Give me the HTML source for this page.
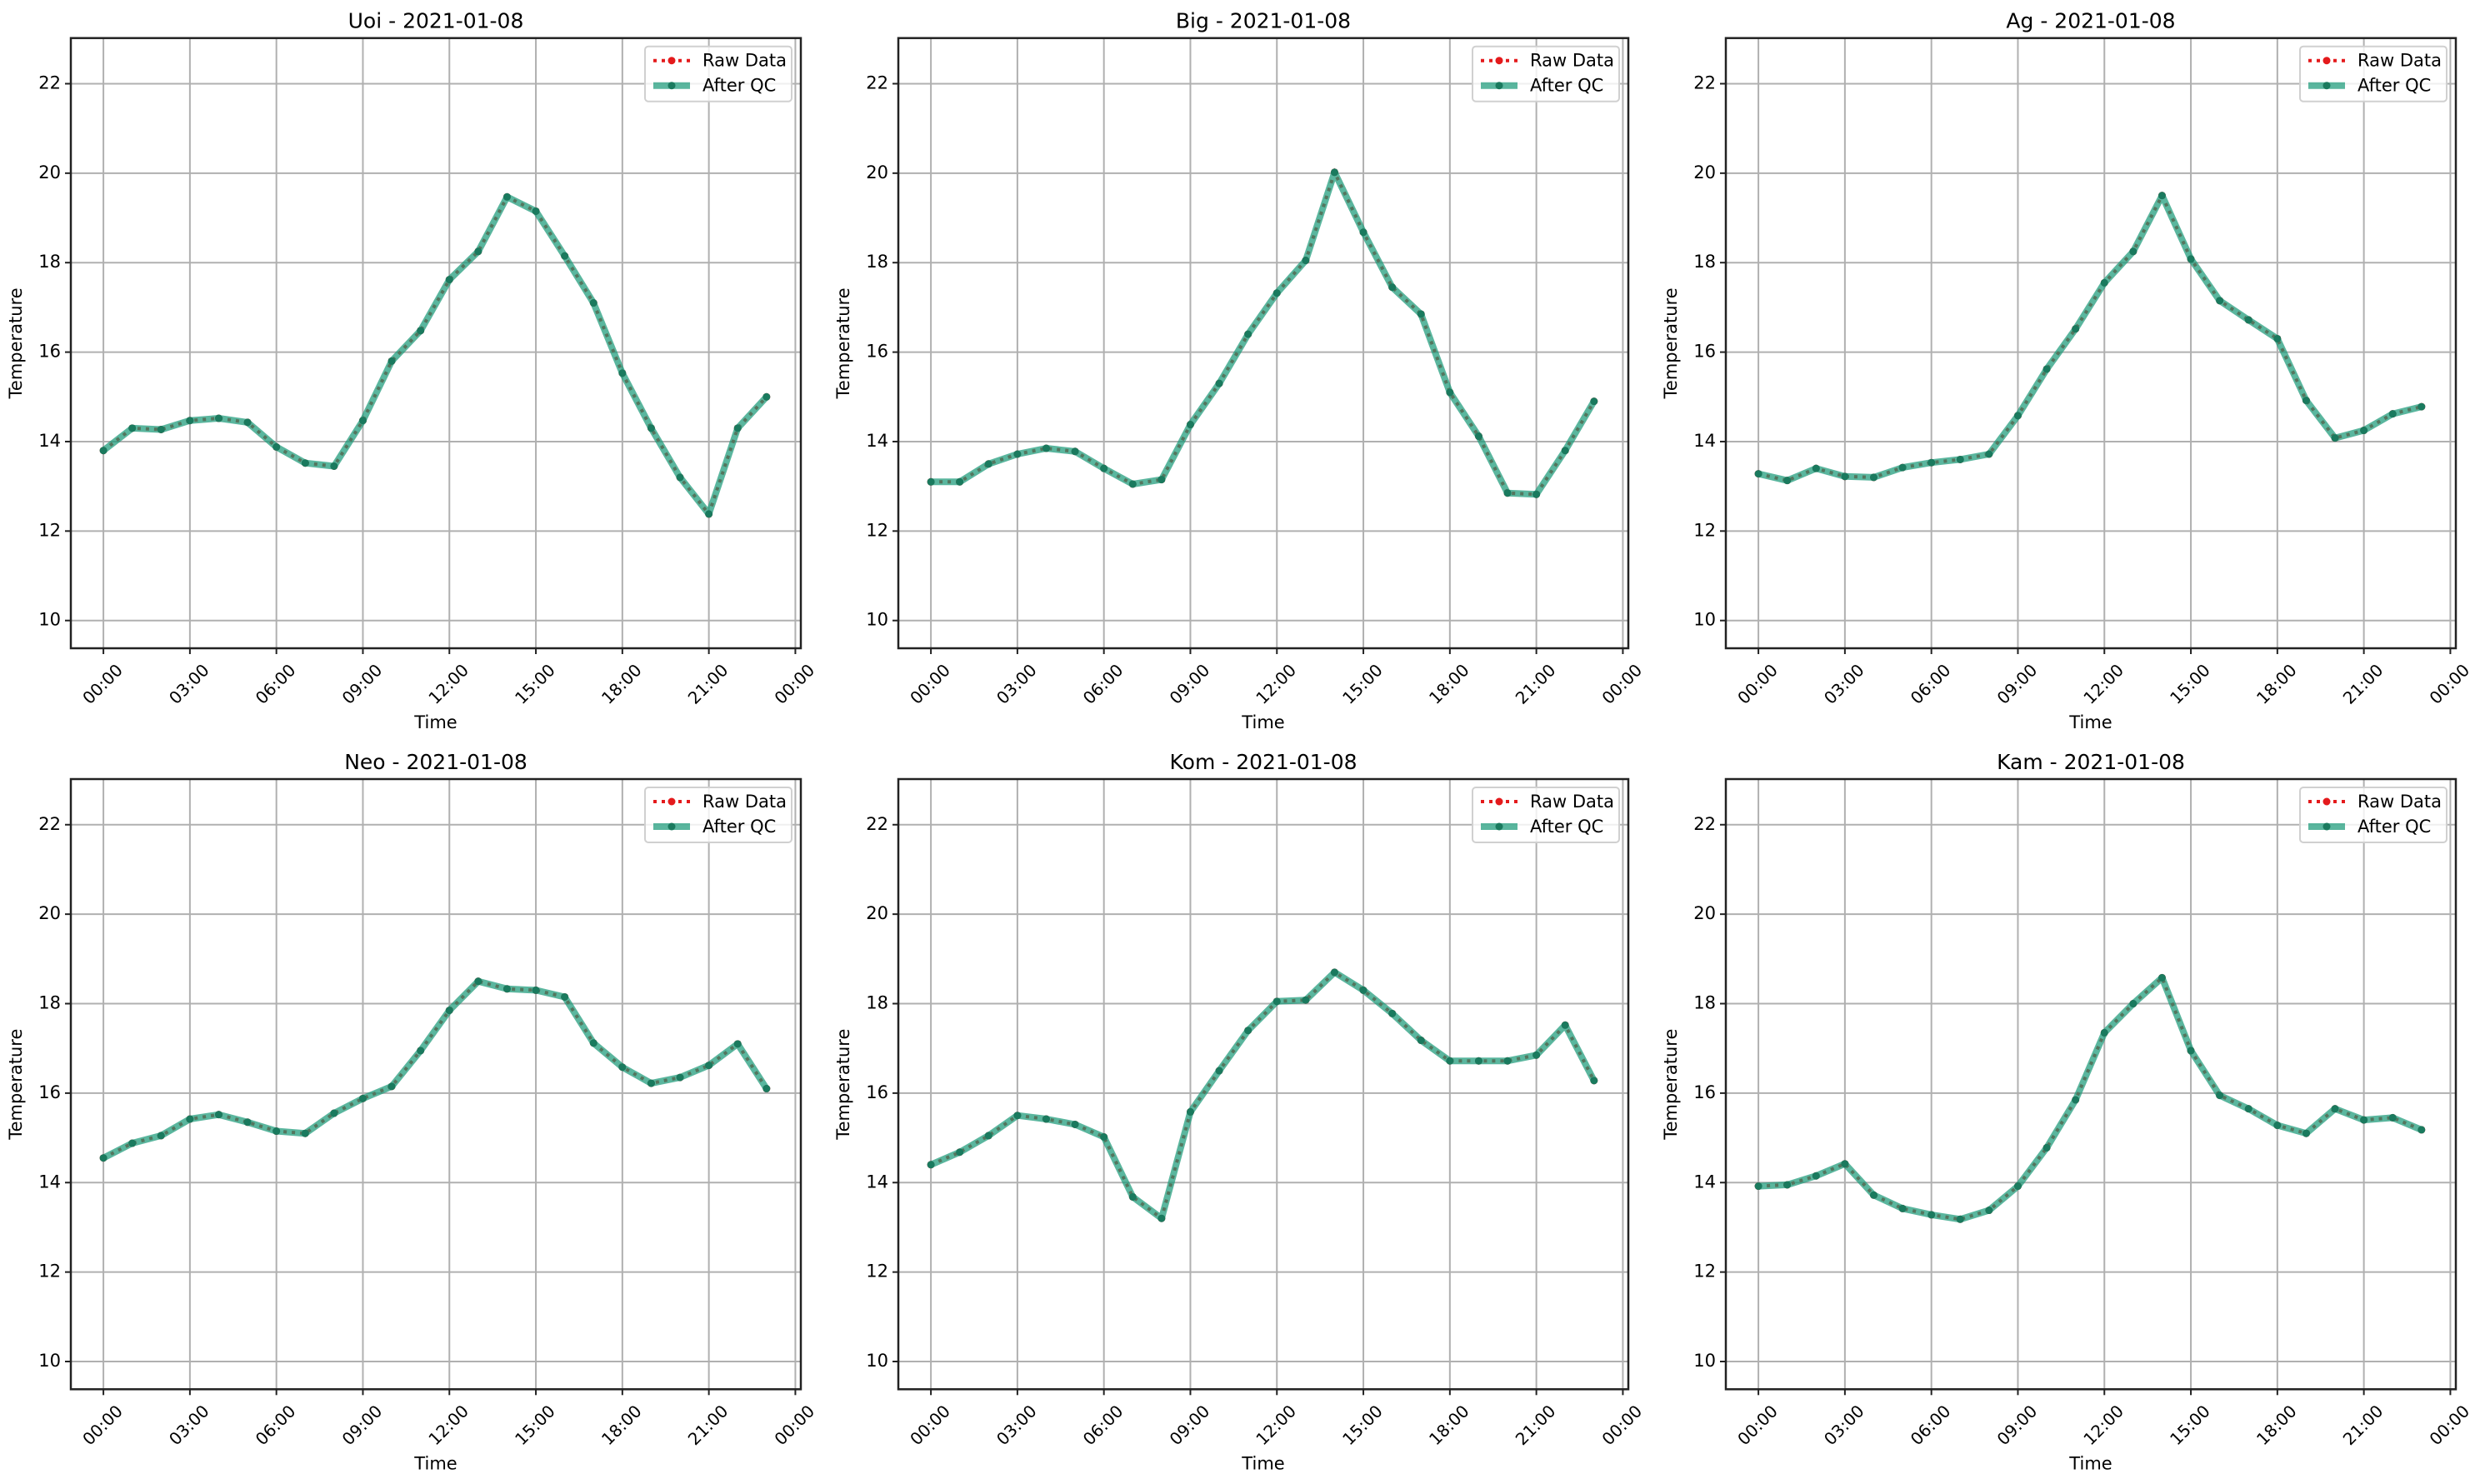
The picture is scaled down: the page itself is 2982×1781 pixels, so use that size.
<!DOCTYPE html>
<html><head><meta charset="utf-8"><style>
html,body{margin:0;padding:0;background:#fff;}
svg{display:block;font-family:"DejaVu Sans","Liberation Sans",sans-serif;}
</style></head><body>
<svg id="fig" width="2982" height="1781" viewBox="0 0 2982 1781" xmlns="http://www.w3.org/2000/svg"></svg>
<script>
const stations = ["Uoi","Big","Ag","Neo","Kom","Kam"];
const hours = [0,1,2,3,4,5,6,7,8,9,10,11,12,13,14,15,16,17,18,19,20,21,22,23];
const uoiVals = [13.8,14.3,14.27,14.47,14.52,14.43,13.88,13.52,13.45,14.47,15.8,16.48,17.62,18.25,19.47,19.15,18.15,17.1,15.53,14.3,13.2,12.38,14.3,15.0];
const bigVals = [13.1,13.1,13.5,13.72,13.85,13.78,13.4,13.05,13.15,14.38,15.3,16.4,17.32,18.05,20.02,18.68,17.45,16.85,15.1,14.12,12.85,12.82,13.8,14.9];
const agVals = [13.28,13.13,13.4,13.22,13.2,13.42,13.53,13.6,13.72,14.58,15.62,16.52,17.55,18.25,19.5,18.08,17.15,16.72,16.3,14.92,14.08,14.25,14.62,14.78];
const neoVals = [14.55,14.88,15.05,15.42,15.52,15.35,15.15,15.1,15.55,15.88,16.15,16.95,17.85,18.5,18.33,18.3,18.15,17.12,16.58,16.22,16.35,16.62,17.1,16.1];
const komVals = [14.4,14.68,15.05,15.5,15.42,15.3,15.02,13.68,13.2,15.58,16.5,17.4,18.05,18.08,18.7,18.3,17.78,17.18,16.72,16.72,16.72,16.85,17.52,16.28];
const kamVals = [13.92,13.95,14.15,14.42,13.72,13.42,13.28,13.18,13.38,13.92,14.78,15.85,17.35,18.0,18.58,16.95,15.95,15.65,15.28,15.1,15.65,15.4,15.45,15.18];
const xTickHours = [0,3,6,9,12,15,18,21,24];
const xTickLabels = ["00:00","03:00","06:00","09:00","12:00","15:00","18:00","21:00","00:00"];
const yTicks = [10,12,14,16,18,20,22];
const dateLabel = "2021-01-08";

const allVals = [uoiVals,bigVals,agVals,neoVals,komVals,kamVals];
const NS = "http://www.w3.org/2000/svg";
const svg = document.getElementById('fig');
function mk(tag, attrs, parent){const e=document.createElementNS(NS,tag);for(const k in attrs)e.setAttribute(k,attrs[k]);(parent||svg).appendChild(e);return e;}

const AX_W=876, AX_H=732.3, X0=85, Y0=45.7, DX=993, DY=889.3;
const XMIN=-1.13, XMAX=24.19, YMIN=9.38, YMAX=23.02;

stations.forEach((name,i)=>{
  const c=i%3, r=Math.floor(i/3);
  const L=X0+c*DX, T=Y0+r*DY, R=L+AX_W, B=T+AX_H;
  const xs=h=>L+(h-XMIN)/(XMAX-XMIN)*AX_W;
  const ys=v=>B-(v-YMIN)/(YMAX-YMIN)*AX_H;
  const g=mk('g',{});
  
  
  xTickHours.forEach((h,k)=>{
    const gl=mk('line',{x1:xs(h),x2:xs(h),y1:T,y2:B,stroke:'#b0b0b0','stroke-width':2},g);
    
    
    const tk=mk('line',{x1:xs(h),x2:xs(h),y1:B,y2:B+7,stroke:'#222','stroke-width':2},g);
    
    
    const tx=xs(h), ty=B+44;
    const t=mk('text',{x:tx,y:ty,'font-size':20,'text-anchor':'middle','dominant-baseline':'middle',transform:`rotate(-45 ${tx} ${ty})`,fill:'#000'},g);
    t.textContent=xTickLabels[k];
    
    
  });
  yTicks.forEach(v=>{
    const gl=mk('line',{x1:L,x2:R,y1:ys(v),y2:ys(v),stroke:'#b0b0b0','stroke-width':2},g);
    
    
    const tk=mk('line',{x1:L-7,x2:L,y1:ys(v),y2:ys(v),stroke:'#222','stroke-width':2},g);
    
    
    const t=mk('text',{x:L-12,y:ys(v),'font-size':21,'text-anchor':'end','dominant-baseline':'middle',fill:'#000'},g);
    t.textContent=v;
    
    
  });
  const vals=allVals[i];
  const pts=hours.map((h,k)=>xs(h).toFixed(1)+','+ys(vals[k]).toFixed(1)).join(' ');
  const raw=mk('polyline',{points:pts,fill:'none',stroke:'#e41a1c','stroke-width':4,'stroke-dasharray':'4 6'},g);
  
  
  hours.forEach((h,k)=>{
    const m=mk('circle',{cx:xs(h),cy:ys(vals[k]),r:4.5,fill:'#e41a1c'},g);
    
    
  });
  const qc=mk('polyline',{points:pts,fill:'none',stroke:'#1a9a78','stroke-width':8,'stroke-opacity':0.72,'stroke-linejoin':'round'},g);
  
  
  hours.forEach((h,k)=>{
    const m=mk('circle',{cx:xs(h),cy:ys(vals[k]),r:4.5,fill:'#1a7a5e'},g);
    
    
  });
  const fr=mk('rect',{x:L,y:T,width:AX_W,height:AX_H,fill:'none',stroke:'#222','stroke-width':2.5},g);
  
  
  const ti=mk('text',{x:(L+R)/2,y:T-12,'font-size':25,'text-anchor':'middle',fill:'#000'},g);
  ti.textContent=name+' - '+dateLabel;
  
  
  const xl=mk('text',{x:(L+R)/2,y:B+96,'font-size':21,'text-anchor':'middle',fill:'#000'},g);
  xl.textContent='Time';
  
  
  const yx=L-59, yy=(T+B)/2;
  const yl=mk('text',{x:yx,y:yy,'font-size':21,'text-anchor':'middle',transform:`rotate(-90 ${yx} ${yy})`,fill:'#000'},g);
  yl.textContent='Temperature';
  
  
  const lg=mk('g',{},g);
  
  
  mk('rect',{x:R-187,y:T+10,width:176,height:66,rx:4,fill:'#fff','fill-opacity':0.8,stroke:'#d0d0d0','stroke-width':2},lg);
  const e1=mk('line',{x1:R-177,x2:R-133,y1:T+27,y2:T+27,stroke:'#e41a1c','stroke-width':4,'stroke-dasharray':'4 6'},lg);
  
  
  mk('circle',{cx:R-155,cy:T+27,r:4.5,fill:'#e41a1c'},lg);
  const t1=mk('text',{x:R-118,y:T+28,'font-size':21,'dominant-baseline':'middle',fill:'#000'},lg);
  t1.textContent='Raw Data';
  
  
  const e2=mk('line',{x1:R-177,x2:R-133,y1:T+57,y2:T+57,stroke:'#1a9a78','stroke-width':8,'stroke-opacity':0.72},lg);
  
  
  mk('circle',{cx:R-155,cy:T+57,r:4.5,fill:'#1a7a5e'},lg);
  const t2=mk('text',{x:R-118,y:T+58,'font-size':21,'dominant-baseline':'middle',fill:'#000'},lg);
  t2.textContent='After QC';
  
  
});
</script>
</body></html>
